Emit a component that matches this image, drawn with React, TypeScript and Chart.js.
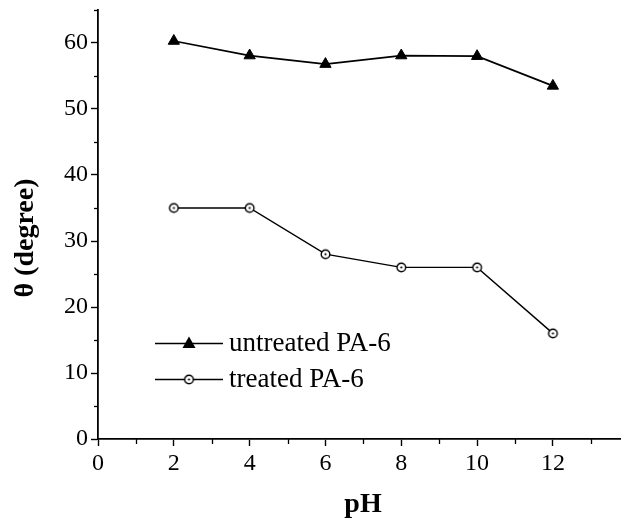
import React, { useEffect, useRef } from "react";
import { Chart, registerables } from "chart.js";

Chart.register(...registerables);

const phValues = [2, 4, 6, 8, 10, 12];
const untreated = [60.3, 58.1, 56.8, 58.1, 58.0, 53.5];
const treated = [35, 35, 28, 26, 26, 16];
const xMajorTicks = [0, 2, 4, 6, 8, 10, 12];
const xMinorTicks = [1, 3, 5, 7, 9, 11, 13];
const yMajorTicks = [0, 10, 20, 30, 40, 50, 60];
const yMinorTicks = [5, 15, 25, 35, 45, 55, 65];
const seriesNames = ["untreated PA-6", "treated PA-6"];
const xTitle = "pH";
const yTitle = "θ (degree)";

const FONT = '"Liberation Serif", "Times New Roman", serif';

function makeCircleMarker(): HTMLCanvasElement {
  const c = document.createElement("canvas");
  c.width = 13;
  c.height = 13;
  const g = c.getContext("2d")!;
  g.beginPath();
  g.arc(6.5, 6.5, 4.3, 0, Math.PI * 2);
  g.fillStyle = "#fff";
  g.fill();
  g.lineWidth = 1.4;
  g.strokeStyle = "#000";
  g.stroke();
  g.beginPath();
  g.arc(6.5, 6.5, 1.1, 0, Math.PI * 2);
  g.fillStyle = "#000";
  g.fill();
  return c;
}

const zeroPad = (s: any) => {
  s.paddingLeft = 0;
  s.paddingRight = 0;
  s.paddingTop = 0;
  s.paddingBottom = 0;
};

export default function App() {
  const ref = useRef<HTMLCanvasElement | null>(null);

  useEffect(() => {
    if (!ref.current) return;
    const circle = makeCircleMarker();

    const extras = {
      id: "extras",
      afterDraw(chart: any) {
        const ctx = chart.ctx;
        const xs = chart.scales.x;
        const ys = chart.scales.y;
        const area = chart.chartArea;
        ctx.save();
        ctx.strokeStyle = "#000";
        ctx.lineWidth = 1.3;
        // minor ticks
        yMinorTicks.forEach((v) => {
          const py = Math.round(ys.getPixelForValue(v)) + 0.5;
          ctx.beginPath();
          ctx.moveTo(area.left - 4, py);
          ctx.lineTo(area.left, py);
          ctx.stroke();
        });
        xMinorTicks.forEach((v) => {
          const px = Math.round(xs.getPixelForValue(v)) + 0.5;
          ctx.beginPath();
          ctx.moveTo(px, area.bottom);
          ctx.lineTo(px, area.bottom + 5);
          ctx.stroke();
        });
        // axis titles
        ctx.fillStyle = "#000";
        ctx.font = `bold 28px ${FONT}`;
        ctx.textAlign = "center";
        ctx.textBaseline = "middle";
        ctx.fillText(xTitle, 363, 505);
        ctx.save();
        ctx.translate(26, 238);
        ctx.rotate(-Math.PI / 2);
        ctx.fillText(yTitle, 0, 0);
        ctx.restore();
        // legend
        const rows = [343, 379];
        ctx.font = `27px ${FONT}`;
        ctx.textAlign = "left";
        rows.forEach((ry, i) => {
          ctx.lineWidth = 1.3;
          ctx.beginPath();
          ctx.moveTo(155, ry + 0.5);
          ctx.lineTo(223, ry + 0.5);
          ctx.stroke();
          if (i === 0) {
            const r = 6.5;
            ctx.beginPath();
            ctx.moveTo(189, ry - r);
            ctx.lineTo(189 + r, ry + r * 0.75);
            ctx.lineTo(189 - r, ry + r * 0.75);
            ctx.closePath();
            ctx.fillStyle = "#000";
            ctx.fill();
          } else {
            ctx.drawImage(circle, 189 - 6.5, ry - 6);
          }
          ctx.fillStyle = "#000";
          ctx.fillText(seriesNames[i], 229, ry + 1);
        });
        ctx.restore();
      },
    };

    const chart = new Chart(ref.current, {
      type: "line",
      data: {
        datasets: [
          {
            label: seriesNames[0],
            data: phValues.map((x, i) => ({ x, y: untreated[i] })),
            borderColor: "#000",
            borderWidth: 1.7,
            pointStyle: "triangle",
            pointRadius: 6.5,
            pointBackgroundColor: "#000",
            pointBorderColor: "#000",
            pointBorderWidth: 1,
          },
          {
            label: seriesNames[1],
            data: phValues.map((x, i) => ({ x, y: treated[i] })),
            borderColor: "#000",
            borderWidth: 1.4,
            pointStyle: circle as any,
            pointRadius: 5,
          },
        ],
      },
      options: {
        animation: false,
        responsive: false,
        events: [],
        layout: { autoPadding: false, padding: { top: 10, right: 1, left: 0, bottom: 0 } },
        plugins: {
          legend: { display: false },
          tooltip: { enabled: false },
        },
        scales: {
          x: {
            type: "linear",
            min: 0,
            max: 13.77,
            afterBuildTicks: (s: any) => {
              s.ticks = xMajorTicks.map((v) => ({ value: v }));
            },
            afterFit: (s: any) => {
              s.height = 82;
              zeroPad(s);
            },
            ticks: {
              color: "#000",
              font: { family: FONT, size: 24 },
              padding: 3,
              maxRotation: 0,
              autoSkip: false,
            },
            grid: {
              drawOnChartArea: false,
              drawTicks: true,
              tickLength: 7,
              tickColor: "#000",
              tickWidth: 1.4,
            },
            border: { display: true, color: "#000", width: 1.8 },
          },
          y: {
            type: "linear",
            min: 0,
            max: 65,
            afterBuildTicks: (s: any) => {
              s.ticks = yMajorTicks.map((v) => ({ value: v }));
            },
            afterFit: (s: any) => {
              s.width = 98;
              zeroPad(s);
            },
            ticks: {
              color: "#000",
              font: { family: FONT, size: 24 },
              padding: 3,
              autoSkip: false,
            },
            grid: {
              drawOnChartArea: false,
              drawTicks: true,
              tickLength: 7,
              tickColor: "#000",
              tickWidth: 1.4,
            },
            border: { display: true, color: "#000", width: 1.8 },
          },
        },
      },
      plugins: [extras],
    });

    return () => chart.destroy();
  }, []);

  return (
    <div style={{ position: "absolute", left: 0, top: 0, width: 621, height: 521, background: "#fff" }}>
      <canvas ref={ref} width={621} height={521} style={{ display: "block" }} />
    </div>
  );
}
